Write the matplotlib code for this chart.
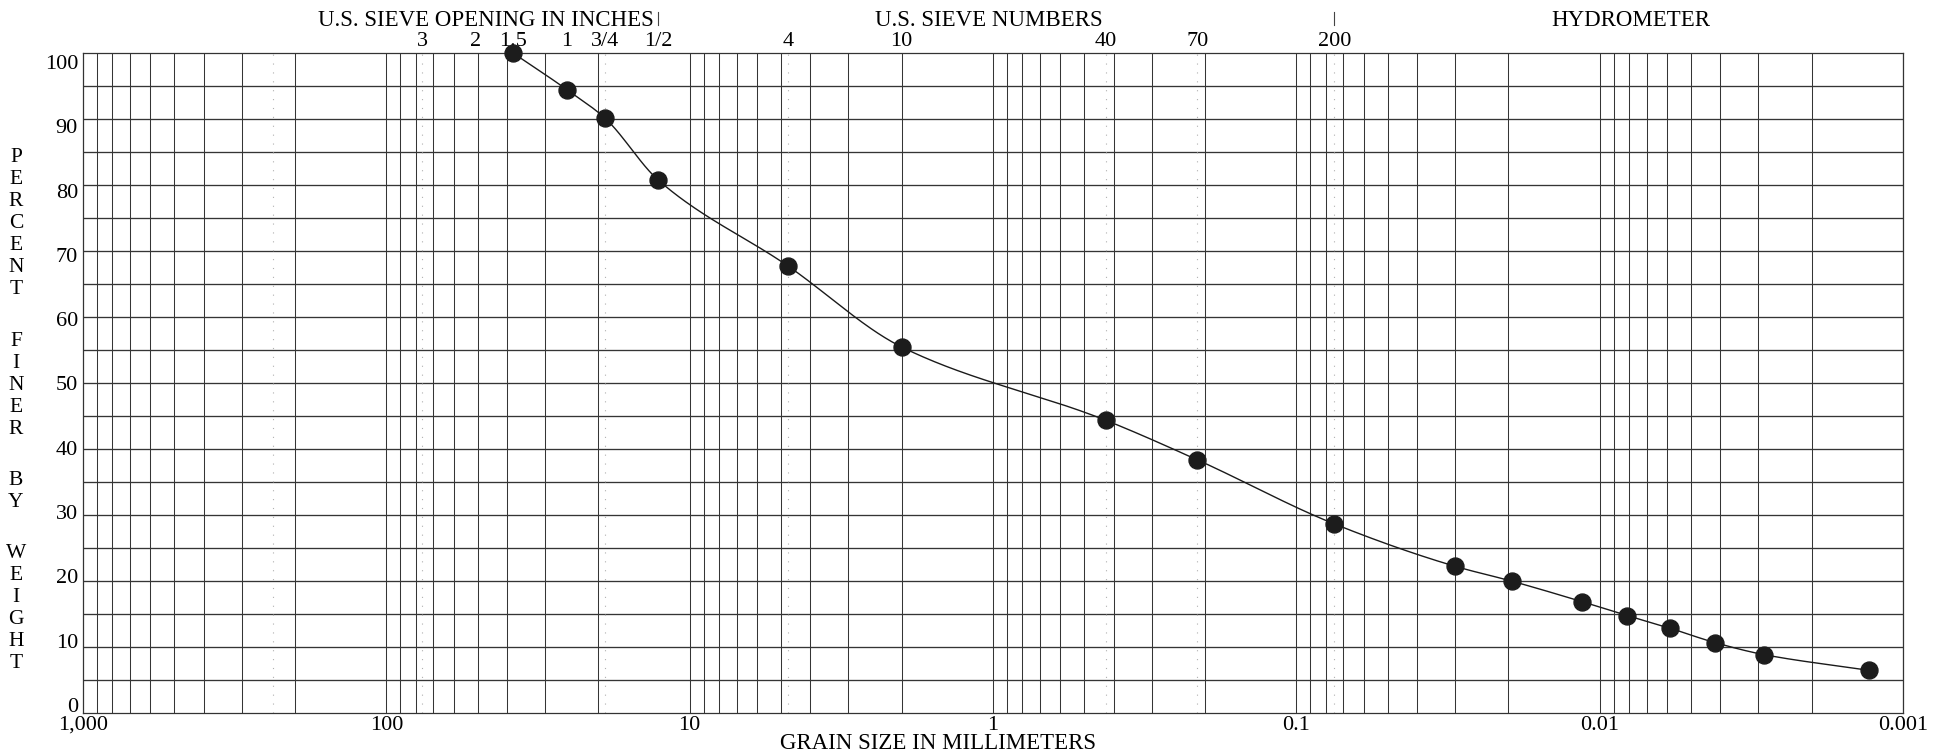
import numpy as np
import matplotlib
matplotlib.use("Agg")
import matplotlib.pyplot as plt
from matplotlib.transforms import blended_transform_factory

plt.rcParams['font.family'] = ['Liberation Serif', 'DejaVu Serif']

# Grain size distribution (mm) and percent finer by weight
grain_size_mm = [38.1, 25.4, 19.05, 12.7, 4.75, 2.0, 0.425, 0.212, 0.075,
                 0.0301, 0.0194, 0.0114, 0.0081, 0.00587, 0.00416, 0.00288, 0.00129]
percent_finer = [100.0, 94.5, 90.2, 80.8, 67.8, 55.5, 44.4, 38.4, 28.7,
                 22.3, 20.0, 16.9, 14.8, 12.9, 10.7, 8.9, 6.5]

# Sieve designations along the top
inch_labels = ['3', '2', '1.5', '1', '3/4', '1/2']
inch_sizes_mm = [76.2, 50.8, 38.1, 25.4, 19.05, 12.7]
sieve_labels = ['4', '10', '40', '70', '200']
sieve_sizes_mm = [4.75, 2.0, 0.425, 0.212, 0.075]
dotted_sizes_mm = [237.0, 76.2, 19.05, 4.75, 0.425, 0.212, 0.075]
divider_sizes_mm = [12.7, 0.075]

x_tick_values = [1000, 100, 10, 1, 0.1, 0.01, 0.001]
x_tick_labels = ['1,000', '100', '10', '1', '0.1', '0.01', '0.001']
y_tick_values = list(range(0, 101, 10))

W, H = 1948, 756
fig = plt.figure(figsize=(W / 100, H / 100), dpi=100)
L, R, T, B = 83, 1903, 53.3, 713.3
ax = fig.add_axes([L / W, 1 - B / H, (R - L) / W, (B - T) / H])
ax.set_xscale('log')
ax.set_xlim(1000, 0.001)
ax.set_ylim(0, 100)
ax.set_xticks([])
ax.set_yticks([])
ax.minorticks_off()
for s in ax.spines.values():
    s.set_color('#333333')
    s.set_linewidth(0.9)

grid_c = '#353535'
# vertical log grid
for e in range(-3, 3):
    for k in range(1, 10):
        ax.axvline(k * 10.0 ** e, color=grid_c, lw=0.75, zorder=1)
# horizontal grid every 5 %
for v in range(5, 100, 5):
    ax.axhline(v, color=grid_c, lw=0.95, zorder=1)
# dotted reference lines at sieve openings
for d in dotted_sizes_mm:
    ax.axvline(d, color='#b0b0b0', lw=0.8, ls=(0, (1, 7)), zorder=1.5)


def pchip(x, y, xs):
    x = np.asarray(x, float)
    y = np.asarray(y, float)
    h = np.diff(x)
    delta = np.diff(y) / h
    n = len(x)
    m = np.zeros(n)
    for i in range(1, n - 1):
        if delta[i - 1] * delta[i] > 0:
            w1 = 2 * h[i] + h[i - 1]
            w2 = h[i] + 2 * h[i - 1]
            m[i] = (w1 + w2) / (w1 / delta[i - 1] + w2 / delta[i])
    m[0] = delta[0]
    m[-1] = delta[-1]
    ys = np.empty_like(xs)
    idx = np.clip(np.searchsorted(x, xs) - 1, 0, n - 2)
    for j, xv in enumerate(xs):
        i = idx[j]
        t = (xv - x[i]) / h[i]
        h00 = 2 * t**3 - 3 * t**2 + 1
        h10 = t**3 - 2 * t**2 + t
        h01 = -2 * t**3 + 3 * t**2
        h11 = t**3 - t**2
        ys[j] = h00 * y[i] + h10 * h[i] * m[i] + h01 * y[i + 1] + h11 * h[i] * m[i + 1]
    return ys


lx = -np.log10(grain_size_mm)
xs = np.linspace(lx[0], lx[-1], 600)
ys = pchip(lx, percent_finer, xs)
ax.plot(10 ** (-xs), ys, color='#1a1a1a', lw=1.0, zorder=3, clip_on=False)
ax.plot(grain_size_mm, percent_finer, 'o', ms=12.2, color='#1c1c1c',
        mec='#1c1c1c', zorder=4, clip_on=False)

# pixel helpers
def fy(pix):
    return 1 - pix / H

def fx(pix):
    return pix / W

xdata_ytop = blended_transform_factory(ax.transData, fig.transFigure)

fs_lab = 16
fs_head = 16.5

# y tick labels
for v in y_tick_values:
    base = 69 + (100 - v) * 6.43
    fig.text(fx(78), fy(base), str(v), ha='right', va='baseline', fontsize=fs_lab)

# x tick labels
for v, s in zip(x_tick_values, x_tick_labels):
    ax.text(v, fy(730), s, transform=xdata_ytop, ha='center', va='baseline', fontsize=fs_lab)

fig.text(fx(938), fy(749), 'GRAIN SIZE IN MILLIMETERS', ha='center', va='baseline', fontsize=fs_head)

# top labels
for s, d in zip(inch_labels, inch_sizes_mm):
    ax.text(d, fy(46.5), s, transform=xdata_ytop, ha='center', va='baseline', fontsize=fs_lab)
for s, d in zip(sieve_labels, sieve_sizes_mm):
    ax.text(d, fy(46.5), s, transform=xdata_ytop, ha='center', va='baseline', fontsize=fs_lab)
fig.text(fx(485.5), fy(26), 'U.S. SIEVE OPENING IN INCHES', ha='center', va='baseline', fontsize=fs_head)
fig.text(fx(989), fy(26), 'U.S. SIEVE NUMBERS', ha='center', va='baseline', fontsize=fs_head)
fig.text(fx(1631), fy(26), 'HYDROMETER', ha='center', va='baseline', fontsize=fs_head)
for d in divider_sizes_mm:
    ax.plot([d, d], [fy(11.5), fy(24.5)], transform=xdata_ytop, color='#444444',
            lw=0.8, clip_on=False)

# vertical stacked axis title
words = ['PERCENT', 'FINER', 'BY', 'WEIGHT']
step = 22.0
gap = 2.33
pos = 158.0
for wi, wd in enumerate(words):
    for li, ch in enumerate(wd):
        fig.text(fx(16), fy(pos), ch, ha='center', va='center', fontsize=15.5)
        if li < len(wd) - 1:
            pos += step
    pos += step * gap

fig.savefig('out.png', dpi=100, facecolor='white')
